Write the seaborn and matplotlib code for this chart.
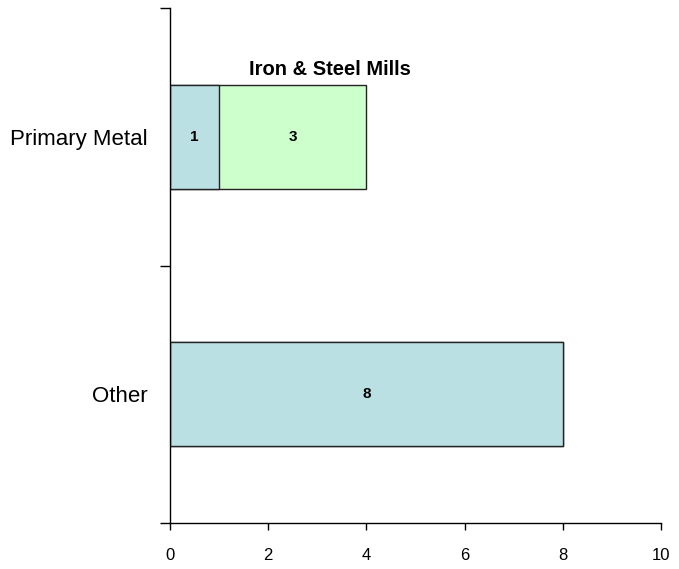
import matplotlib
matplotlib.use("Agg")
import matplotlib.pyplot as plt
import seaborn as sns
import pandas as pd

# chart data
categories = ["Primary Metal", "Other"]
base_values = [1, 8]
sub_values = [3, 0]
sub_label = "Iron & Steel Mills"
x_ticks = [0, 2, 4, 6, 8, 10]

BLUE = "#BBE0E3"
GREEN = "#CCFFCC"

sns.set_style("white")
plt.rcParams["font.family"] = ["Liberation Sans", "DejaVu Sans"]

df = pd.DataFrame({
    "category": categories,
    "base": base_values,
    "total": [b + s for b, s in zip(base_values, sub_values)],
})

fig = plt.figure(figsize=(6.79, 5.69), dpi=100)
ax = fig.add_axes([170 / 679, 1 - 523 / 569, 491 / 679, 515 / 569])

# stacked bars: totals in green, base segment in blue drawn over it
sns.barplot(data=df, x="total", y="category", color=GREEN, width=0.405,
            edgecolor="#222222", linewidth=1.0, saturation=1, ax=ax)
sns.barplot(data=df, x="base", y="category", color=BLUE, width=0.405,
            edgecolor="#222222", linewidth=1.0, saturation=1, ax=ax)

# value labels inside segments
for i, (b, s) in enumerate(zip(base_values, sub_values)):
    ax.text(b / 2, i, str(b), ha="center", va="center", fontsize=11,
            fontweight="bold", color="black")
    if s:
        ax.text(b + s / 2, i, str(s), ha="center", va="center", fontsize=11,
                fontweight="bold", color="black")

ax.text(3.26, -0.225, sub_label, ha="center", va="bottom", fontsize=14.5,
        fontweight="bold", color="black")

ax.set_xlim(0, 10)
ax.set_ylim(1.5, -0.5)
ax.set_xticks(x_ticks)
ax.set_xticklabels([str(t) for t in x_ticks])
ax.set_yticks(range(len(categories)))
ax.set_yticklabels(categories)
ax.set_yticks([-0.5, 0.5, 1.5], minor=True)
ax.tick_params(axis="y", which="major", left=False, length=0, pad=16,
               labelsize=16, labelcolor="black")
ax.tick_params(axis="y", which="minor", left=True, length=7, width=1.0,
               direction="out", color="black")
ax.tick_params(axis="x", bottom=True, length=5, width=1.0, direction="out",
               color="black", pad=13, labelsize=12, labelcolor="black")
ax.set_xlabel("")
ax.set_ylabel("")

for side in ["top", "right"]:
    ax.spines[side].set_visible(False)
for side in ["left", "bottom"]:
    ax.spines[side].set_color("black")
    ax.spines[side].set_linewidth(1.0)

fig.savefig("out.png", dpi=100)
